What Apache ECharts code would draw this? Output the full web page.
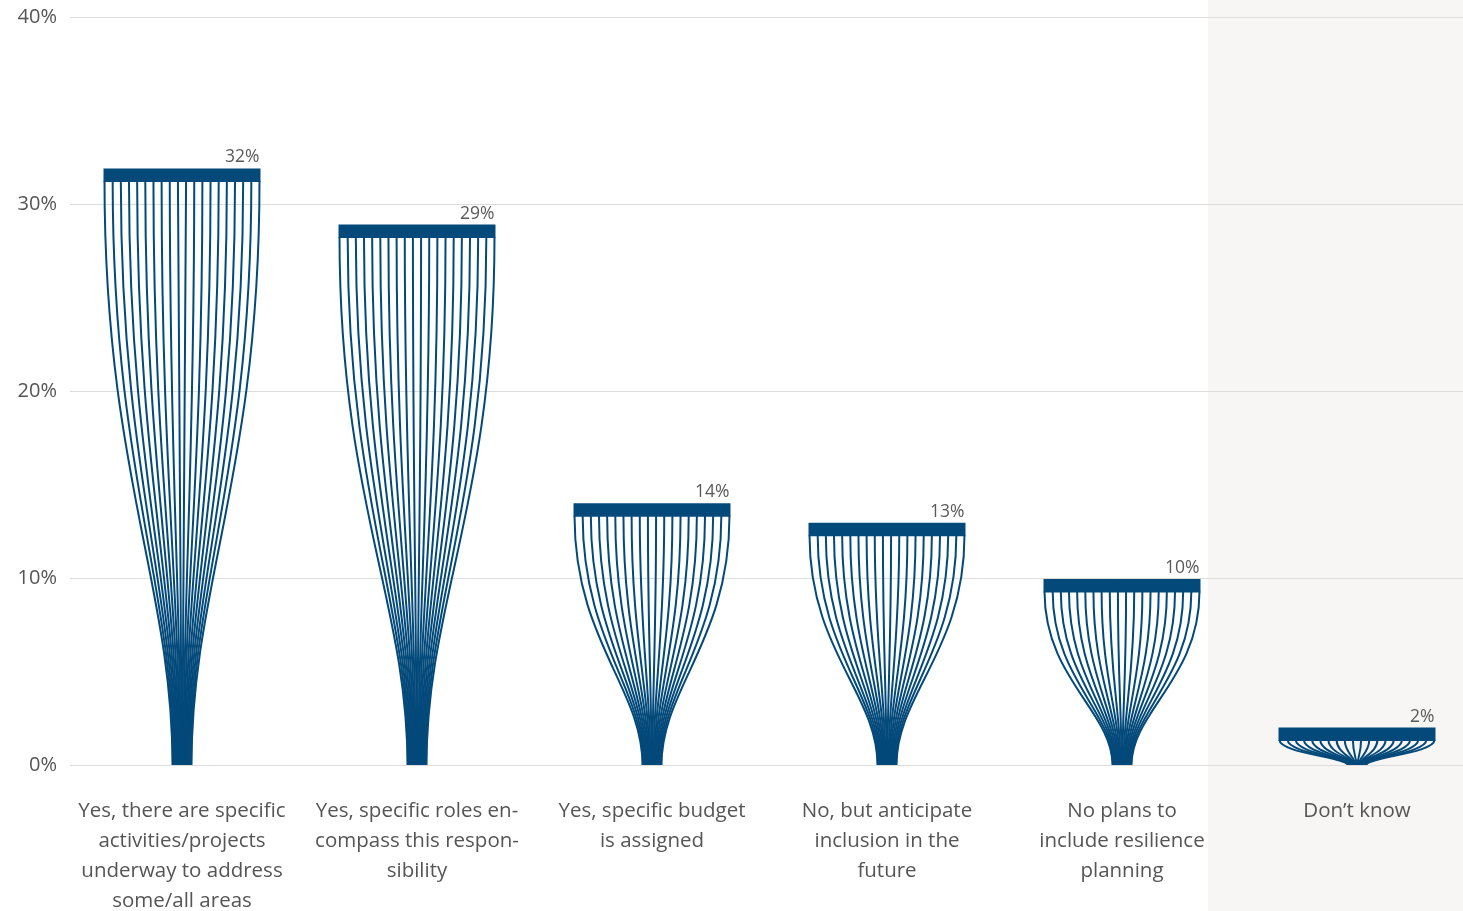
<!DOCTYPE html>
<html>
<head>
<meta charset="utf-8">
<script src="https://cdn.jsdelivr.net/npm/echarts@6/dist/echarts.min.js"></script>
<style>
  html, body { margin: 0; padding: 0; background: #ffffff; }
  #chart { width: 1463px; height: 911px; }
</style>
</head>
<body>
<div id="chart"></div>
<script>
const categories = [
  'Yes, there are specific\nactivities/projects\nunderway to address\nsome/all areas',
  'Yes, specific roles en-\ncompass this respon-\nsibility',
  'Yes, specific budget\nis assigned',
  'No, but anticipate\ninclusion in the\nfuture',
  'No plans to\ninclude resilience\nplanning',
  'Don\u2019t know'
];
const values = [31.9, 28.9, 14.0, 12.95, 9.95, 2.0];
const valueLabels = ['32%', '29%', '14%', '13%', '10%', '2%'];
const yMin = 0, yMax = 40, yStep = 10;

const BAR_COLOR = '#03497a';
const TEXT_COLOR = '#555555';
const FONT = "'Open Sans', 'Noto Sans', sans-serif";

const chart = echarts.init(document.getElementById('chart'), null, { renderer: 'canvas' });

function renderVase(params, api) {
  const idx = api.value(0);
  const val = api.value(1);
  const base = api.coord([idx, 0]);
  const top = api.coord([idx, val]);
  const band = api.size([1, 0])[0];
  const W = band * 0.668;
  const cx = base[0];
  const left = cx - W / 2;
  const capH = 13.5;
  const capTop = top[1];
  const capBot = capTop + capH;
  const baseY = base[1];
  const h = baseY - capBot;
  const nLines = 20;
  const lw = 2;
  const stemW = 19;
  const children = [];
  for (let i = 0; i < nLines; i++) {
    const x1 = left + lw / 2 + i * (W - lw) / (nLines - 1);
    const x2 = cx - stemW / 2 + i * stemW / (nLines - 1);
    children.push({
      type: 'bezierCurve',
      shape: {
        x1: x1, y1: capBot - 1,
        cpx1: x1, cpy1: capBot + 0.5 * h,
        cpx2: x2, cpy2: capBot + 0.69 * h,
        x2: x2, y2: baseY
      },
      style: { stroke: BAR_COLOR, lineWidth: lw, fill: null }
    });
  }
  children.push({
    type: 'rect',
    shape: { x: left, y: capTop, width: W, height: capH },
    style: { fill: BAR_COLOR }
  });
  children.push({
    type: 'text',
    x: left + W - 1,
    y: capTop - 2,
    style: {
      text: valueLabels[params.dataIndex],
      align: 'right',
      verticalAlign: 'bottom',
      fill: '#5a5a5a',
      font: "400 17.5px 'Open Sans', 'Noto Sans', sans-serif"
    }
  });
  return { type: 'group', children: children };
}

const option = {
  backgroundColor: '#ffffff',
  animation: false,
  graphic: [
    {
      type: 'rect',
      z: -10,
      silent: true,
      shape: { x: 1208, y: 0, width: 260, height: 911 },
      style: { fill: '#f7f6f4' }
    }
  ],
  grid: [
    { left: 70, right: 0, top: 17, bottom: 146, containLabel: false, outerBoundsMode: 'none' },
    { left: 64.5, width: 1410, top: 17, bottom: 146, containLabel: false, outerBoundsMode: 'none' }
  ],
  xAxis: [
    { type: 'value', gridIndex: 0, show: false, min: 0, max: 1 },
    {
      type: 'category',
      gridIndex: 1,
      data: categories,
      axisLine: { show: false },
      axisTick: { show: false },
      axisLabel: {
        interval: 0,
        margin: 31,
        color: TEXT_COLOR,
        fontSize: 20.5,
        fontWeight: 400,
        lineHeight: 30,
        fontFamily: FONT,
        hideOverlap: false
      }
    }
  ],
  yAxis: [
    {
      type: 'value',
      gridIndex: 0,
      min: yMin, max: yMax, interval: yStep,
      axisLine: { show: false },
      axisTick: { show: false },
      axisLabel: {
        margin: 13,
        color: TEXT_COLOR,
        fontSize: 20,
        fontWeight: 400,
        fontFamily: FONT,
        formatter: '{value}%'
      },
      splitLine: { show: true, lineStyle: { color: '#dcdcdc', width: 1 } }
    },
    {
      type: 'value',
      gridIndex: 1,
      min: yMin, max: yMax, interval: yStep,
      show: false
    }
  ],
  series: [
    {
      type: 'custom',
      xAxisIndex: 1,
      yAxisIndex: 1,
      renderItem: renderVase,
      data: values.map((v, i) => [i, v]),
      z: 5
    }
  ]
};
chart.setOption(option);
</script>
</body>
</html>
